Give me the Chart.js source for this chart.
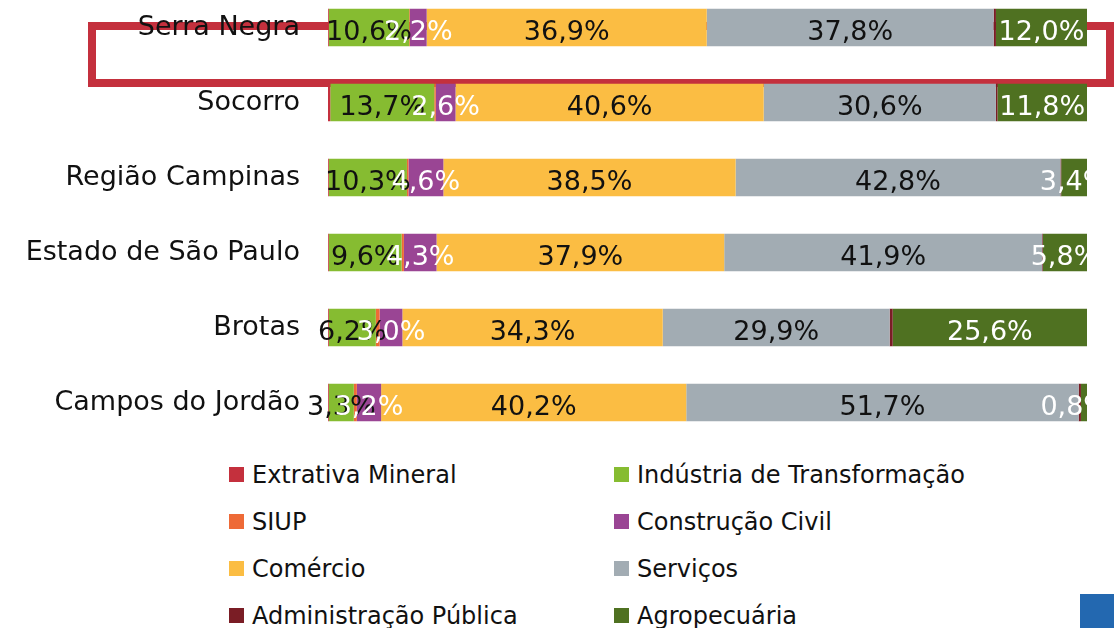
<!DOCTYPE html>
<html>
<head>
<meta charset="utf-8">
<script src="https://cdn.jsdelivr.net/npm/chart.js@4"></script>
<style>
  body { margin: 0; width: 1114px; height: 628px; overflow: hidden; background: #fff; position: relative; font-family: "DejaVu Sans", sans-serif; }
  #highlight { position: absolute; left: 88px; top: 22px; width: 1026px; height: 65px; border: 8px solid #C4303D; box-sizing: border-box; }
  #wrap { position: absolute; left: 0; top: -10px; width: 1087px; height: 450px; }
  #legend { position: absolute; left: 229px; top: 451px; display: grid; grid-template-columns: 385px 385px; }
  .item { height: 47px; display: flex; align-items: center; font-size: 24px; color: #111; white-space: nowrap; }
  .box { width: 15px; height: 15px; margin-right: 8px; flex: none; }
  #corner { position: absolute; left: 1080px; top: 594px; width: 34px; height: 34px; background: #2368B0; }
</style>
</head>
<body>
<div id="highlight"></div>
<div id="wrap"><canvas id="chart" width="1087" height="450"></canvas></div>
<div id="legend"></div>
<div id="corner"></div>
<script>
const regions = ["Serra Negra", "Socorro", "Região Campinas", "Estado de São Paulo", "Brotas", "Campos do Jordão"];

// shares in %, one array per sector, same order as regions
const extrativa   = [0.1, 0.3, 0.1, 0.1, 0.1, 0.1];
const industria   = [10.6, 13.7, 10.3, 9.6, 6.2, 3.3];
const siup        = [0.1, 0.2, 0.2, 0.3, 0.5, 0.4];
const construcao  = [2.2, 2.6, 4.6, 4.3, 3.0, 3.2];
const comercio    = [36.9, 40.6, 38.5, 37.9, 34.3, 40.2];
const servicos    = [37.8, 30.6, 42.8, 41.9, 29.9, 51.7];
const adminPublica = [0.3, 0.2, 0.1, 0.1, 0.4, 0.3];
const agro        = [12.0, 11.8, 3.4, 5.8, 25.6, 0.8];

const sectors = [
  { label: "Extrativa Mineral", data: extrativa, color: "#C4303D", text: null },
  { label: "Indústria de Transformação", data: industria, color: "#86BC31", text: "#111" },
  { label: "SIUP", data: siup, color: "#EE6A37", text: null },
  { label: "Construção Civil", data: construcao, color: "#9A4594", text: "#fff" },
  { label: "Comércio", data: comercio, color: "#FBBD43", text: "#111" },
  { label: "Serviços", data: servicos, color: "#A2ACB3", text: "#111" },
  { label: "Administração Pública", data: adminPublica, color: "#7A1D25", text: null },
  { label: "Agropecuária", data: agro, color: "#4F7121", text: "#fff" }
];

// ------------------------------------------
// VALUE LABELS (centered in each segment, cut at the right edge)
// ------------------------------------------
const segmentLabels = {
  id: "segmentLabels",
  afterDatasetsDraw(chart) {
    const ctx = chart.ctx;
    const area = chart.chartArea;
    ctx.save();
    ctx.beginPath();
    ctx.rect(0, 0, area.right, chart.height);
    ctx.clip();
    ctx.font = "27px 'DejaVu Sans'";
    ctx.textAlign = "center";
    ctx.textBaseline = "alphabetic";
    chart.data.datasets.forEach((ds, i) => {
      if (!ds.textColor) return;
      chart.getDatasetMeta(i).data.forEach((bar, j) => {
        const txt = ds.data[j].toFixed(1).replace(".", ",") + "%";
        const w = ctx.measureText(txt).width;
        let x = (bar.x + bar.base) / 2;
        if (x + w / 2 > area.right + 22) x = area.right + 22 - w / 2;
        ctx.fillStyle = ds.textColor;
        ctx.fillText(txt, x, bar.y + 12);
      });
    });
    ctx.restore();
  }
};

new Chart(document.getElementById("chart"), {
  type: "bar",
  data: {
    labels: regions,
    datasets: sectors.map(s => ({
      label: s.label,
      data: s.data,
      backgroundColor: s.color,
      textColor: s.text,
      borderWidth: 0,
      barPercentage: 0.5,
      categoryPercentage: 1
    }))
  },
  options: {
    indexAxis: "y",
    responsive: false,
    animation: false,
    layout: { padding: 0 },
    plugins: { legend: { display: false }, tooltip: { enabled: false } },
    scales: {
      x: { stacked: true, min: 0, max: 100, display: false },
      y: {
        stacked: true,
        grid: { display: false, drawTicks: false },
        border: { display: false },
        ticks: { padding: 28, color: "#111", font: { family: "DejaVu Sans", size: 27 } },
        afterFit(scale) {
          scale.width = 328;
          scale.paddingTop = 0;
          scale.paddingBottom = 0;
        }
      }
    }
  },
  plugins: [segmentLabels]
});

// ------------------------------------------
// LEGEND (two columns)
// ------------------------------------------
const legend = document.getElementById("legend");
sectors.forEach(s => {
  const item = document.createElement("div");
  item.className = "item";
  item.innerHTML = `<span class="box" style="background:${s.color}"></span><span>${s.label}</span>`;
  legend.appendChild(item);
});
</script>
</body>
</html>
